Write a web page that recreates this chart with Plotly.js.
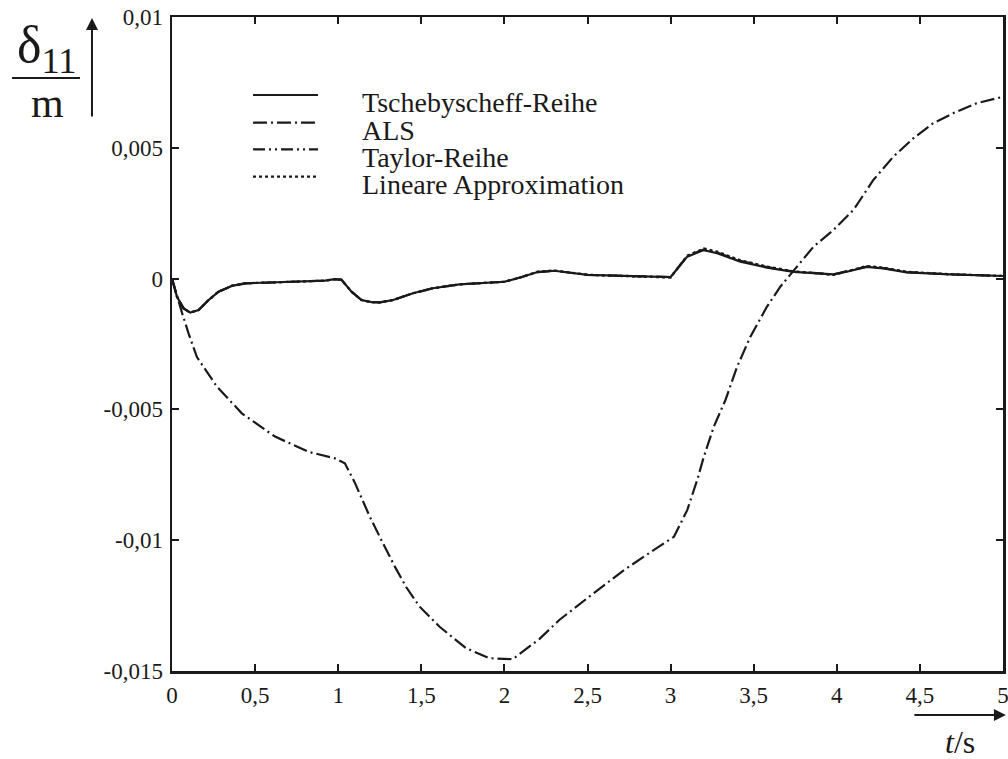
<!DOCTYPE html>
<html>
<head>
<meta charset="utf-8">
<script src="https://cdn.plot.ly/plotly-3.0.1.min.js"></script>
<style>html,body{margin:0;padding:0;background:#fff;}#chart{width:1008px;height:759px;}</style>
</head>
<body>
<div id="chart"></div>
<script>
// ---- data ----
const seriesNames = ["Tschebyscheff-Reihe", "ALS", "Taylor-Reihe", "Lineare Approximation"];

const tSmall = [0, 0.03, 0.07, 0.11, 0.16, 0.22, 0.28, 0.36, 0.44, 0.66, 0.92, 0.98, 1.02, 1.08, 1.14, 1.2, 1.25, 1.33, 1.45, 1.57, 1.73, 2.0, 2.1, 2.2, 2.3, 2.5, 2.6, 3.0, 3.1, 3.2, 3.28, 3.42, 3.58, 3.74, 3.98, 4.06, 4.18, 4.28, 4.42, 4.68, 5.0];
const yTscheby = [0, -0.0007, -0.00114, -0.0013, -0.0012, -0.00082, -0.0005, -0.00028, -0.00018, -0.00014, -0.00008, -0.00002, -0.00005, -0.0005, -0.00082, -0.0009, -0.00091, -0.00082, -0.00056, -0.00037, -0.00022, -0.00012, 0.00005, 0.00025, 0.0003, 0.00014, 0.00012, 0.00006, 0.00084, 0.00109, 0.00097, 0.00065, 0.00042, 0.00026, 0.00016, 0.00026, 0.00045, 0.00039, 0.00024, 0.00016, 0.0001];
const yALS = [0, -0.0007, -0.00114, -0.0013, -0.0012, -0.00082, -0.0005, -0.00028, -0.00018, -0.00014, -0.00008, -0.00002, -0.00005, -0.0005, -0.00082, -0.0009, -0.00091, -0.00082, -0.00056, -0.00037, -0.00022, -0.00012, 0.00005, 0.00025, 0.0003, 0.00014, 0.00012, 0.00006, 0.00086, 0.00112, 0.001, 0.00068, 0.00044, 0.00027, 0.00016, 0.00027, 0.00046, 0.0004, 0.00025, 0.00016, 0.0001];
const yLinear = [0, -0.0007, -0.00114, -0.0013, -0.0012, -0.00082, -0.0005, -0.00028, -0.00018, -0.00014, -0.00008, -0.00002, -0.00005, -0.0005, -0.00082, -0.0009, -0.00091, -0.00082, -0.00056, -0.00037, -0.00022, -0.00012, 0.00005, 0.00027, 0.00031, 0.00015, 0.00012, 0.00004, 0.00088, 0.00115, 0.00103, 0.0007, 0.00046, 0.00028, 0.00014, 0.00028, 0.00048, 0.00042, 0.00026, 0.00017, 0.0001];

const tTaylor = [0, 0.03, 0.06, 0.1, 0.15, 0.27, 0.42, 0.62, 0.82, 0.98, 1.04, 1.1, 1.19, 1.26, 1.34, 1.41, 1.49, 1.61, 1.77, 1.91, 2.05, 2.21, 2.33, 2.51, 2.72, 2.9, 3.02, 3.1, 3.16, 3.2, 3.26, 3.33, 3.4, 3.48, 3.58, 3.66, 3.75, 3.86, 3.98, 4.1, 4.22, 4.34, 4.46, 4.58, 4.7, 4.84, 5.0];
const yTaylor = [0, -0.0007, -0.0013, -0.0021, -0.003, -0.00413, -0.00515, -0.00604, -0.00662, -0.00687, -0.00706, -0.0078, -0.0091, -0.01, -0.011, -0.0118, -0.01254, -0.01331, -0.01413, -0.01451, -0.01455, -0.01378, -0.01305, -0.01216, -0.01114, -0.01037, -0.00987, -0.00885, -0.0077, -0.00681, -0.00566, -0.00464, -0.00337, -0.00222, -0.00107, -0.00031, 0.00039, 0.00122, 0.00186, 0.00262, 0.00377, 0.00466, 0.00536, 0.00594, 0.00632, 0.0067, 0.00695];

const xTickVals = [0, 0.5, 1, 1.5, 2, 2.5, 3, 3.5, 4, 4.5, 5];
const xTickText = ["0", "0,5", "1", "1,5", "2", "2,5", "3", "3,5", "4", "4,5", "5"];
const yTickVals = [-0.015, -0.01, -0.005, 0, 0.005, 0.01];
const yTickText = ["-0,015", "-0,01", "-0,005", "0", "0,005", "0,01"];

// ---- styles ----
const FONT = "'Liberation Serif', serif";
const dashes = ["solid", "14px,4px,2px,4px", "12px,4px,2px,4px,2px,4px", "3px,3px"];
const lw = 2.2;

const traces = [
  {x: tSmall, y: yLinear, name: seriesNames[3], dash: dashes[3]},
  {x: tSmall, y: yALS, name: seriesNames[1], dash: dashes[1]},
  {x: tSmall, y: yTscheby, name: seriesNames[0], dash: dashes[0]},
  {x: tTaylor, y: yTaylor, name: seriesNames[2], dash: "14px,4px,2px,4px"}
].map(s => ({
  type: "scatter", mode: "lines", x: s.x, y: s.y, name: s.name,
  line: {color: "#1a1a1a", width: lw, dash: s.dash, shape: "linear"},
  showlegend: false, hoverinfo: "skip"
}));

// manual legend (sample lines + labels), in paper coordinates
const legendOrder = [0, 1, 2, 3];
const legY = [0.8807, 0.8384, 0.7977, 0.7558];
const shapes = [];
const annotations = [];
legendOrder.forEach((k, i) => {
  shapes.push({type: "line", xref: "paper", yref: "paper", x0: 0.0975, x1: 0.1757, y0: legY[i], y1: legY[i],
    line: {color: "#1a1a1a", width: lw, dash: dashes[k]}});
  annotations.push({xref: "paper", yref: "paper", x: 0.2262, y: legY[i] - 0.012, xanchor: "left", yanchor: "middle",
    text: seriesNames[k], showarrow: false, font: {family: FONT, size: 28, color: "#1a1a1a"}});
});

// y-axis label: fraction delta_11 / m with upward arrow
shapes.push({type: "line", xref: "paper", yref: "paper", x0: -0.1925, x1: -0.1107, y0: 0.9067, y1: 0.9067,
  line: {color: "#1a1a1a", width: 2}});
annotations.push({xref: "paper", yref: "paper", x: -0.1500, y: 0.952, xanchor: "center", yanchor: "middle",
  text: "δ<sub>11</sub>", showarrow: false, font: {family: FONT, size: 52, color: "#1a1a1a"}});
annotations.push({xref: "paper", yref: "paper", x: -0.1504, y: 0.868, xanchor: "center", yanchor: "middle",
  text: "m", showarrow: false, font: {family: FONT, size: 42, color: "#1a1a1a"}});
annotations.push({xref: "paper", yref: "paper", x: -0.0963, y: 0.9985, text: "", showarrow: true,
  ax: 0, ay: 100, axref: "pixel", ayref: "pixel", arrowhead: 2, arrowsize: 1.2, arrowwidth: 2, arrowcolor: "#1a1a1a"});

// x-axis label: arrow + t/s
annotations.push({xref: "paper", yref: "paper", x: 1.0035, y: -0.0673, text: "", showarrow: true,
  ax: -93, ay: 0, axref: "pixel", ayref: "pixel", arrowhead: 2, arrowsize: 1.2, arrowwidth: 2, arrowcolor: "#1a1a1a"});
annotations.push({xref: "paper", yref: "paper", x: 0.9483, y: -0.1086, xanchor: "center", yanchor: "middle",
  text: "<i>t</i>/s", showarrow: false, font: {family: FONT, size: 32, color: "#1a1a1a"}});

const axisCommon = {
  showline: true, linecolor: "#1a1a1a", linewidth: 2.5, mirror: "ticks",
  ticks: "inside", ticklen: 7, tickwidth: 2, tickcolor: "#1a1a1a",
  showgrid: false, zeroline: false, tickmode: "array",
  ticklabeloverflow: "allow",
  tickfont: {family: FONT, size: 23, color: "#1a1a1a"}
};

const layout = {
  width: 1008, height: 759,
  margin: {l: 172, r: 5, t: 17, b: 88},
  paper_bgcolor: "#ffffff", plot_bgcolor: "#ffffff",
  separators: ",.",
  xaxis: Object.assign({}, axisCommon, {range: [0, 5], tickvals: xTickVals, ticktext: xTickText, ticklabelstandoff: 2}),
  yaxis: Object.assign({}, axisCommon, {range: [-0.015, 0.01], tickvals: yTickVals, ticktext: yTickText, ticklabelstandoff: 2}),
  shapes: shapes,
  annotations: annotations,
  showlegend: false
};

Plotly.newPlot("chart", traces, layout, {displayModeBar: false, staticPlot: true});
</script>
</body>
</html>
